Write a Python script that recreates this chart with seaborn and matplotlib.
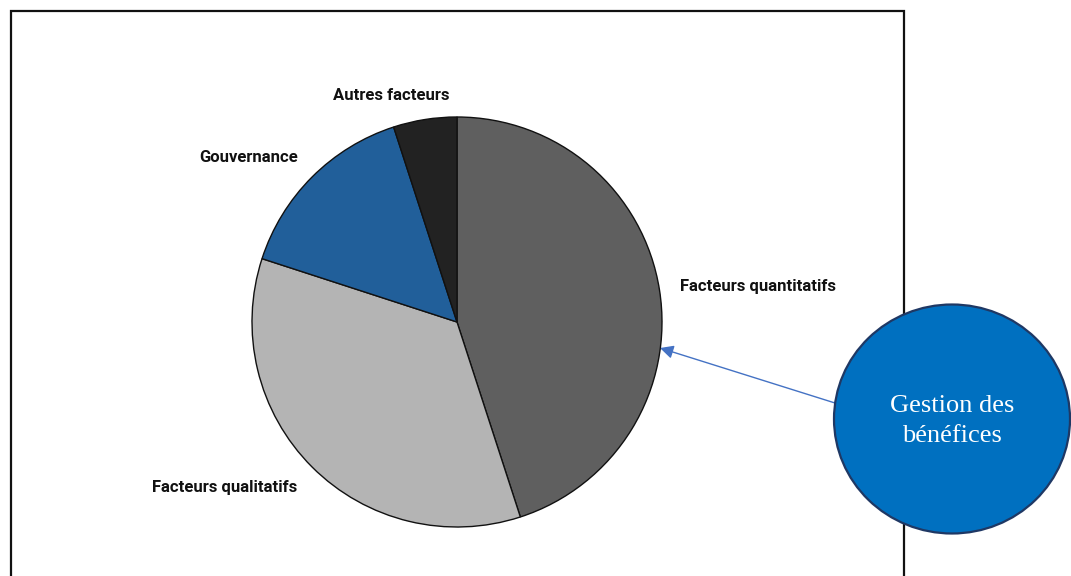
import numpy as np
import matplotlib
matplotlib.use("Agg")
import matplotlib.pyplot as plt
from matplotlib.patches import Rectangle, Ellipse, FancyArrowPatch
import seaborn as sns

# Parts of the breakdown, clockwise from the top
categories = ["Facteurs quantitatifs", "Facteurs qualitatifs", "Gouvernance", "Autres facteurs"]
shares = [45, 35, 15, 5]
colors = ["#5f5f5f", "#b4b4b4", "#215f9a", "#222222"]
bubble_text = "Gestion des\nbénéfices"

sns.set_theme(style="white")
plt.rcParams["font.family"] = ["Roboto", "DejaVu Sans"]

W, H = 1071, 576
fig = plt.figure(figsize=(W / 100, H / 100), dpi=100)
ax = fig.add_axes([0, 0, 1, 1])

# Chart frame (open at the bottom edge of the image)
ax.add_patch(Rectangle((11, -10), 893, H - 11 + 10, fill=False,
                       edgecolor="#111111", linewidth=1.6, zorder=1))

cx, cy, r = 457, H - 322, 205
wedges, texts = ax.pie(
    shares, labels=categories, colors=colors, startangle=90, counterclock=False,
    center=(cx, cy), radius=r, labeldistance=1.1,
    wedgeprops=dict(edgecolor="#111111", linewidth=1.0),
    textprops=dict(fontsize=12, fontweight="bold", color="#111111"),
    frame=True,
)
ax.set_xlim(0, W)
ax.set_ylim(0, H)
ax.set_aspect("equal")
ax.axis("off")
for w in wedges:
    w.set_zorder(3)

# Label alignment relative to the pie centre, with small nudges
nudges = [(0, 0, "left"), (0, -6, "right"), (0, 5, "right"), (-30, 4, "center")]
for t, (dx, dy, ha) in zip(texts, nudges):
    x, y = t.get_position()
    t.set_position((x + dx, y + dy))
    t.set_ha(ha)

# Bubble with arrow pointing to the pie
ax.add_patch(Ellipse((952, H - 419), 236, 229, facecolor="#0070c0",
                     edgecolor="#1f3864", linewidth=1.6, zorder=5))
ax.text(952, H - 421, bubble_text, ha="center", va="center", color="white",
        fontsize=19, family=["Liberation Serif", "DejaVu Serif"],
        linespacing=1.42, zorder=6)
ax.add_patch(FancyArrowPatch((835, H - 403), (660, H - 348),
                             arrowstyle="-|>,head_length=8,head_width=4",
                             color="#4472c4", linewidth=1.0, zorder=4,
                             shrinkA=0, shrinkB=0))

fig.savefig("out.png", dpi=100, facecolor="white")
